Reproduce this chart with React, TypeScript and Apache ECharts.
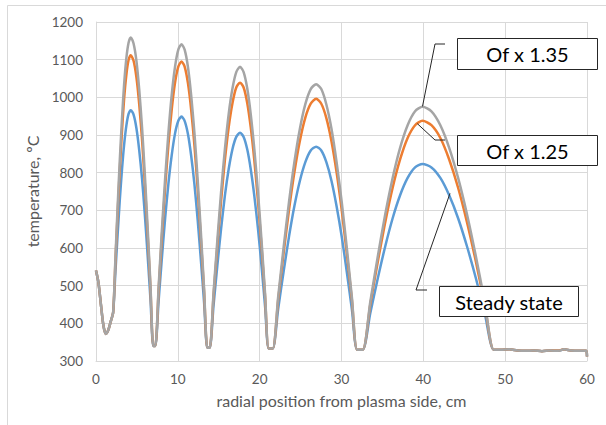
import React, { useEffect, useRef } from "react";
import * as echarts from "echarts";

const radialPos = [
  0, 0.3, 0.6, 0.9, 1.2, 1.5, 1.8,
  2.1, 2.37, 2.64, 2.91, 3.18, 3.44, 3.71, 3.98, 4.25,
  4.59, 4.94, 5.28, 5.63, 5.97, 6.31, 6.66, 7.0,
  7.25,
  7.65, 8.05, 8.45, 8.85, 9.25, 9.65, 10.05, 10.45,
  10.84, 11.24, 11.63, 12.03, 12.42, 12.81, 13.21, 13.6,
  13.9,
  14.36, 14.83, 15.29, 15.75, 16.21, 16.68, 17.14, 17.6,
  18.04, 18.48, 18.91, 19.35, 19.79, 20.23, 20.66, 21.1,
  21.6,
  22.26, 22.93, 23.59, 24.25, 24.91, 25.58, 26.24, 26.9,
  27.53, 28.15, 28.78, 29.4, 30.03, 30.65, 31.28, 31.9,
  32.6,
  33.51, 34.43, 35.34, 36.25, 37.16, 38.08, 38.99, 39.9,
  40.99, 42.08, 43.16, 44.25, 45.34, 46.43, 47.51, 48.6,
  49.5, 50.5, 51.5, 52.5, 53.5, 54.5, 55.5, 56.5, 57.2, 58, 59, 59.9, 60,
];

const steadyState = [
  540, 508, 450, 395, 372, 382, 405,
  430, 535, 635, 728, 809, 875, 925, 956, 966,
  954, 918, 860, 783, 688, 580, 462, 340,
  340,
  459, 573, 679, 771, 846, 903, 937, 949,
  937, 902, 845, 769, 676, 570, 455, 335,
  335,
  446, 554, 652, 739, 809, 863, 895, 906,
  895, 862, 809, 738, 652, 552, 445, 333,
  333,
  438, 538, 631, 712, 778, 828, 859, 869,
  859, 828, 778, 711, 630, 536, 435, 330,
  330,
  426, 519, 604, 679, 740, 786, 814, 823,
  814, 786, 740, 679, 604, 519, 426, 330,
  330, 331, 328, 327, 328, 326, 328, 327, 331, 328, 327, 327, 312,
];

const ofX125 = [
  540, 508, 450, 395, 372, 382, 405,
  430, 563, 691, 809, 912, 997, 1060, 1099, 1112,
  1097, 1053, 982, 886, 769, 636, 491, 340,
  340,
  487, 629, 760, 874, 967, 1038, 1081, 1095,
  1081, 1037, 967, 872, 758, 626, 483, 335,
  335,
  472, 605, 726, 833, 920, 985, 1026, 1039,
  1026, 985, 920, 832, 726, 603, 471, 333,
  333,
  462, 587, 702, 802, 884, 946, 983, 996,
  983, 945, 883, 801, 700, 585, 460, 330,
  330,
  449, 563, 668, 760, 835, 892, 926, 938,
  926, 892, 835, 760, 668, 563, 449, 330,
  330, 331, 328, 327, 328, 326, 328, 328, 331, 328, 327, 327, 312,
];

const ofX135 = [
  540, 508, 450, 395, 372, 382, 405,
  430, 572, 709, 835, 945, 1036, 1104, 1145, 1159,
  1143, 1097, 1021, 919, 795, 654, 500, 340,
  340,
  496, 647, 785, 906, 1006, 1080, 1126, 1141,
  1126, 1080, 1005, 905, 783, 644, 492, 335,
  335,
  480, 621, 750, 862, 955, 1024, 1067, 1081,
  1067, 1024, 955, 862, 749, 619, 479, 333,
  333,
  470, 602, 723, 829, 916, 982, 1022, 1035,
  1022, 981, 916, 828, 722, 600, 467, 330,
  330,
  456, 577, 689, 786, 866, 926, 963, 975,
  963, 926, 866, 786, 689, 577, 456, 330,
  330, 331, 328, 327, 328, 326, 328, 327, 331, 328, 327, 327, 312,
];

const xTicks = { min: 0, max: 60, interval: 10 };
const yTicks = { min: 300, max: 1200, interval: 100 };

const labels = ["Of x 1.35", "Of x 1.25", "Steady state"];
// anchor points (data coordinates) where the callout lines touch the curves
const anchor135 = [39.9, 976];
const anchor125 = [39.27, 930];
const anchorSteady = [43.26, 745];

const FONT = "Lato, 'Open Sans', sans-serif";

export default function App() {
  const ref = useRef<HTMLDivElement>(null);
  useEffect(() => {
    if (!ref.current) return;
    const chart = echarts.init(ref.current, null, { renderer: "svg" });
    const zip = (ys: number[]) => radialPos.map((x, i) => [x, ys[i]]);
    const axisCommon = {
      axisLine: { show: true, lineStyle: { color: "#d9d9d9", width: 1 } },
      axisTick: { show: false },
      splitLine: { show: true, lineStyle: { color: "#d9d9d9", width: 1 } },
      axisLabel: {
        color: "#595959",
        fontSize: 13.5,
        fontFamily: FONT,
        formatter: (v: number) => String(v),
      },
      nameLocation: "middle" as const,
      nameTextStyle: { color: "#595959", fontSize: 16, fontFamily: FONT },
    };
    chart.setOption({
      animation: false,
      grid: { left: 96, right: 19, top: 22, bottom: 64 },
      xAxis: {
        type: "value",
        ...xTicks,
        ...axisCommon,
        axisLabel: { ...axisCommon.axisLabel, margin: 11 },
        name: "radial position from plasma side, cm",
        nameGap: 31,
      },
      yAxis: {
        type: "value",
        ...yTicks,
        ...axisCommon,
        axisLabel: { ...axisCommon.axisLabel, margin: 13 },
        name: "temperature, ºC",
        nameGap: 47,
      },
      series: [
        { name: "Steady state", data: zip(steadyState), color: "#5b9bd5" },
        { name: "Of x 1.25", data: zip(ofX125), color: "#ed7d31" },
        { name: "Of x 1.35", data: zip(ofX135), color: "#a5a5a5" },
      ].map((s) => ({
        ...s,
        type: "line",
        showSymbol: false,
        smooth: 0.25,
        lineStyle: { width: 2.5, color: s.color },
      })),
    });
    const p135 = chart.convertToPixel({ gridIndex: 0 }, anchor135) as number[];
    const p125 = chart.convertToPixel({ gridIndex: 0 }, anchor125) as number[];
    const pSt = chart.convertToPixel({ gridIndex: 0 }, anchorSteady) as number[];
    const lineStyle = { stroke: "#262626", lineWidth: 1, fill: null };
    const box = (x: number, y: number, w: number, h: number, text: string) => ({
      type: "group",
      children: [
        {
          type: "rect",
          shape: { x, y, width: w, height: h },
          style: { fill: "#ffffff", stroke: "#262626", lineWidth: 1 },
          z: 100,
        },
        {
          type: "text",
          x: x + w / 2,
          y: y + h / 2,
          style: {
            text,
            fill: "#000000",
            font: `20px ${FONT}`,
            align: "center",
            verticalAlign: "middle",
          },
          z: 101,
        },
      ],
    });
    chart.setOption({
      graphic: [
        {
          type: "rect",
          shape: { x: 7.5, y: 5.5, width: 640, height: 460 },
          style: { fill: null, stroke: "#d9d9d9", lineWidth: 1 },
          silent: true,
        },
        {
          type: "polyline",
          shape: { points: [[p135[0], p135[1]], [435, 44], [445, 44]] },
          style: lineStyle,
          z: 100,
        },
        {
          type: "polyline",
          shape: { points: [[p125[0], p125[1]], [435, 140], [445, 140]] },
          style: lineStyle,
          z: 100,
        },
        {
          type: "polyline",
          shape: { points: [[pSt[0], pSt[1]], [416, 290], [427, 290]] },
          style: lineStyle,
          z: 100,
        },
        box(457.5, 38.5, 140, 31, labels[0]),
        box(457.5, 135.5, 140, 30, labels[1]),
        box(439.5, 286.5, 139, 30, labels[2]),
      ],
    });
    return () => chart.dispose();
  }, []);
  return (
    <div
      ref={ref}
      style={{ position: "fixed", left: 0, top: 0, width: 606, height: 425, background: "#ffffff" }}
    />
  );
}
